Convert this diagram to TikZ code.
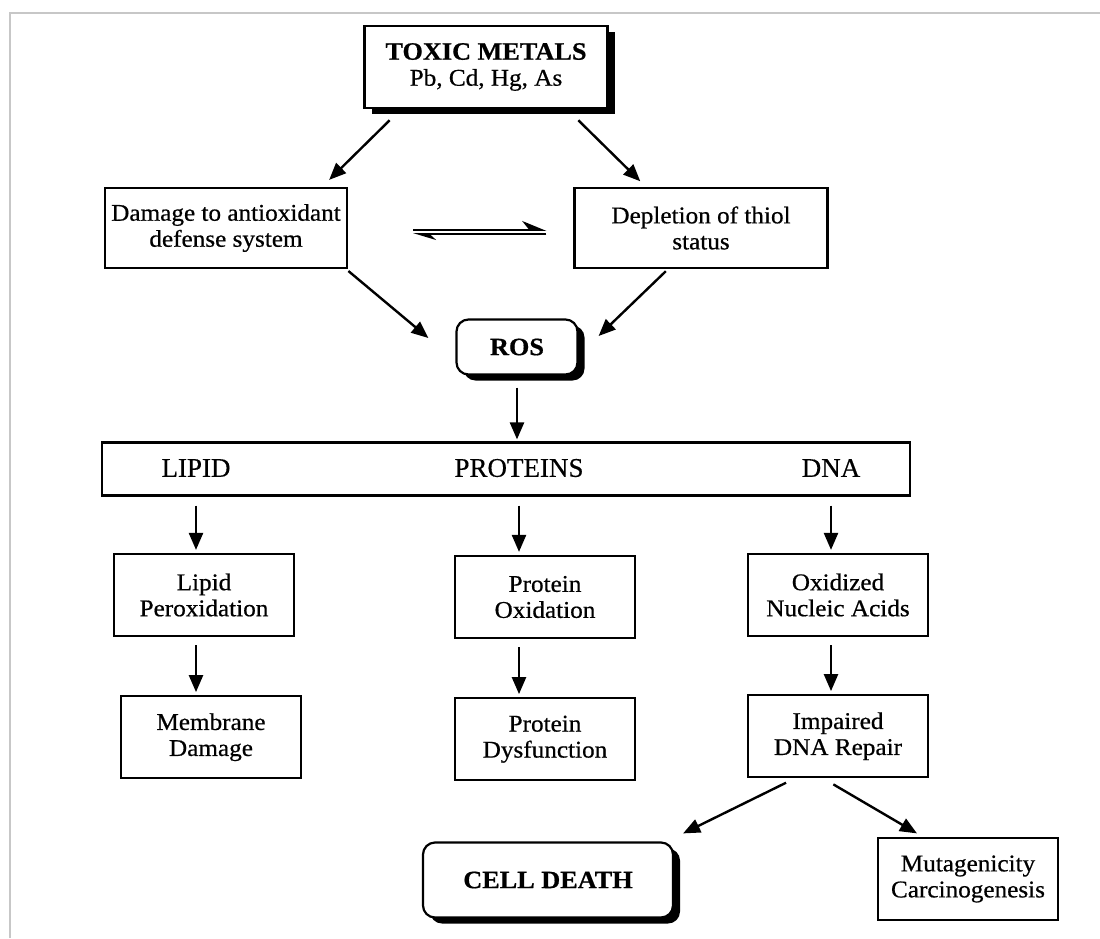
\documentclass[tikz,border=0pt]{standalone}
\usepackage{fontspec}
\setmainfont{Liberation Serif}[FakeStretch=1.05, FakeBold=0.6]
\newfontfamily\capsfont{Liberation Serif}[FakeBold=0.4]
\usetikzlibrary{positioning,shadows,arrows.meta}
\tikzstyle{pathway}=[
    x=1pt, y=-1pt,
    every node/.style={font=\fontsize{24}{26}\selectfont, align=center},
]
\tikzstyle{flow}=[draw, line width=2.4pt, -{Triangle[length=17pt,width=14pt]}]
\tikzstyle{plainbox}=[draw, line width=2.2pt, fill=white, inner sep=0pt,
    minimum width=180pt, minimum height=82pt]
\tikzstyle{shadowbox}=[plainbox, font=\fontsize{24}{26}\selectfont,
    drop shadow={shadow xshift=7pt, shadow yshift=-6pt, opacity=1, fill=black}]
\tikzstyle{roundbox}=[shadowbox, rounded corners=12pt, font=\fontsize{25}{27}\selectfont\bfseries]
\tikzstyle{target}=[font=\capsfont\fontsize{27}{29}\selectfont]
\tikzstyle{balance}=[line width=1.8pt]

\begin{document}
\begin{tikzpicture}[pathway]
        \useasboundingbox[fill=white] (0,0) rectangle (1100,938);
        \draw[black!22, line width=1.5pt] (10,938) -- (10,13) -- (1100,13);

        \node[shadowbox, minimum width=243pt] (toxic) at (486,67) {{\fontsize{25}{27}\selectfont\bfseries TOXIC METALS}\\Pb, Cd, Hg, As};
        \node[plainbox, minimum width=242pt, minimum height=80pt] (dmg) at (226,228) {Damage to antioxidant\\defense system};
        \node[plainbox, minimum width=253pt, minimum height=80pt] (dep) at (701,228) {Depletion of thiol\\status};
        \node[roundbox, minimum width=121pt, minimum height=55pt] (ros) at (517,347) {ROS};

        \node[plainbox, minimum width=808pt, minimum height=53pt] (targets) at (506,469) {};
        \node[target] (lipid) at (196,468) {LIPID};
        \node[target] (proteins) at (519,468) {PROTEINS};
        \node[target] (dna) at (831,468) {DNA};

        \node[plainbox] (lpx) at (204,595) {Lipid\\Peroxidation};
        \node[plainbox] (pox) at (545,597) {Protein\\Oxidation};
        \node[plainbox] (ona) at (838,595) {Oxidized\\Nucleic Acids};
        \node[plainbox, below=58pt of lpx, xshift=7pt] (mem) {Membrane\\Damage};
        \node[plainbox, below=58pt of pox] (pdys) {Protein\\Dysfunction};
        \node[plainbox, below=57pt of ona] (idr) {Impaired\\DNA Repair};

        \node[roundbox, minimum width=250pt, minimum height=75pt] (death) at (548,880) {CELL DEATH};
        \node[plainbox] (muta) at (968,879) {Mutagenicity\\Carcinogenesis};

        \path
            ([xshift=-85pt]toxic.south) edge[flow, shorten <=16pt, shorten >=10pt] ([xshift=96pt]dmg.north)
            ([xshift=81pt]toxic.south) edge[flow, shorten <=16pt, shorten >=8pt] ([xshift=-55pt]dep.north)
            ([xshift=-2pt]dmg.south east) edge[flow, shorten <=3pt] ([xshift=-27pt,yshift=9pt]ros.west)
            ([xshift=-33pt]dep.south) edge[flow, shorten <=3pt] ([xshift=20pt,yshift=11pt]ros.east)
            (ros.south) edge[flow, shorten <=12pt, shorten >=2pt] (targets.north -| ros)
            (targets.south -| lipid) edge[flow, shorten <=9pt, shorten >=3pt] (lpx.north -| lipid)
            (targets.south -| proteins) edge[flow, shorten <=9pt, shorten >=3pt] (pox.north -| proteins)
            (targets.south -| dna) edge[flow, shorten <=9pt, shorten >=3pt] (ona.north -| dna)
            (lpx.south -| lipid) edge[flow, shorten <=8pt, shorten >=3pt] (mem.north -| lipid)
            (pox.south -| proteins) edge[flow, shorten <=8pt, shorten >=3pt] (pdys.north -| proteins)
            (ona.south -| dna) edge[flow, shorten <=8pt, shorten >=3pt] (idr.north -| dna)
            ([xshift=-43pt]idr.south) edge[flow, shorten <=10pt] ([xshift=9pt,yshift=8pt]death.north east)
            ([xshift=-15pt]idr.south) edge[flow, shorten <=12pt, shorten >=7pt] ([xshift=-45pt]muta.north)
        ;
        % reversible step between the two upper boxes
        \draw[balance, -{Stealth[harpoon,length=22pt,width=18pt]}]
            ([xshift=65pt,yshift=-2pt]dmg.east) -- ([xshift=-27pt,yshift=-2pt]dep.west);
        \draw[balance, -{Stealth[harpoon,length=20pt,width=12pt]}]
            ([xshift=-27pt,yshift=-6pt]dep.west) -- ([xshift=65pt,yshift=-6pt]dmg.east);
    \end{tikzpicture}
\end{document}
